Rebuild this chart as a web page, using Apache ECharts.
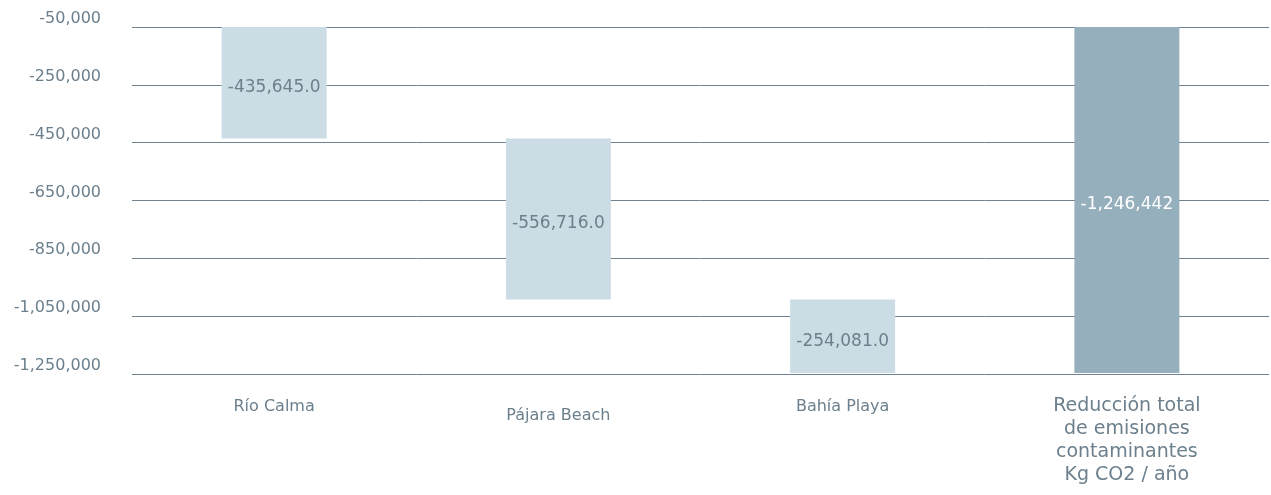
<!DOCTYPE html>
<html>
<head>
<meta charset="utf-8">
<script src="https://cdn.jsdelivr.net/npm/echarts@6/dist/echarts.min.js"></script>
<style>
  html, body { margin: 0; padding: 0; background: #ffffff; }
  #chart { width: 1271px; height: 495px; }
</style>
</head>
<body>
<div id="chart"></div>
<script>
// ---- Data ----
const categories = ['Río Calma', 'Pájara Beach', 'Bahía Playa', 'Reducción total\nde emisiones\ncontaminantes\nKg CO2 / año'];
const changes = [-435645.0, -556716.0, -254081.0];
const totalValue = -1246442;
const valueLabels = ['-435,645.0', '-556,716.0', '-254,081.0', '-1,246,442'];
const yMin = -1250000;
const yMax = -50000;
const yInterval = 200000;

// ---- Build waterfall (base + delta) ----
const baseValues = [];
let running = 0;
changes.forEach(v => { baseValues.push(running); running += v; });
baseValues.push(0);
const deltaValues = changes.concat([totalValue]);

const textColor = '#6b7f8c';
const font = 'DejaVu Sans';

const chart = echarts.init(document.getElementById('chart'));
chart.setOption({
  animation: false,
  grid: { left: 132, right: 2, top: 27, bottom: 121 },
  xAxis: {
    type: 'category',
    data: categories.map((c, i) => {
      if (i === 3) return { value: c, textStyle: { fontSize: 19, lineHeight: 23 } };
      if (i === 1) return { value: c, textStyle: { padding: [9, 0, 0, 0] } };
      return c;
    }),
    axisLine: { show: false },
    axisTick: { show: false },
    axisLabel: {
      interval: 0,
      color: textColor,
      fontFamily: font,
      fontSize: 16,
      margin: 21,
      lineHeight: 23
    }
  },
  yAxis: {
    type: 'value',
    min: yMin,
    max: yMax,
    interval: yInterval,
    axisLine: { show: false },
    axisTick: { show: false },
    splitLine: { lineStyle: { color: '#6e8290', width: 1 } },
    axisLabel: {
      color: textColor,
      fontFamily: font,
      fontSize: 16,
      margin: 31,
      verticalAlign: 'bottom',
      formatter: v => echarts.format.addCommas(v)
    }
  },
  series: [
    {
      type: 'bar',
      stack: 'wf',
      barWidth: 105,
      itemStyle: { color: 'transparent' },
      emphasis: { disabled: true },
      data: baseValues
    },
    {
      type: 'bar',
      stack: 'wf',
      barWidth: 105,
      data: deltaValues.map((v, i) => ({
        value: v,
        itemStyle: { color: i === 3 ? '#95afbd' : '#ccdce5' },
        label: {
          show: true,
          position: 'inside',
          offset: [0, 5],
          color: i === 3 ? '#ffffff' : textColor,
          fontFamily: font,
          fontSize: 17,
          formatter: () => valueLabels[i]
        }
      }))
    }
  ]
});
</script>
</body>
</html>
